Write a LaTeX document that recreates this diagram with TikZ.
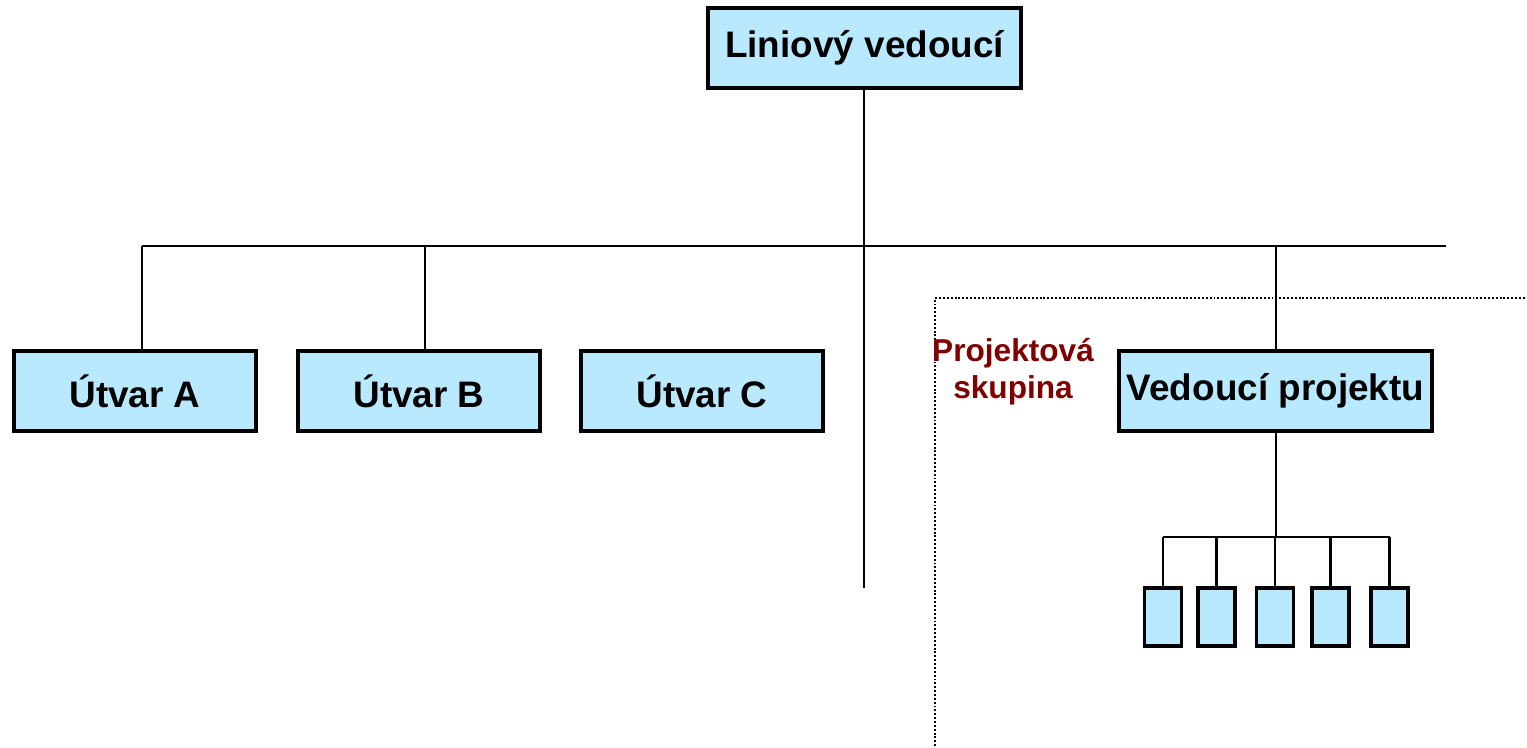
\documentclass[tikz,border=0pt]{standalone}
\usepackage{fontspec}
\setmainfont{Liberation Sans}
\usetikzlibrary{positioning}
\definecolor{boxblue}{RGB}{185,233,255}
\definecolor{teamred}{RGB}{128,0,0}
\tikzset{unit/.style = {draw, line width = 2pt, fill = boxblue, inner sep = 0,
    minimum width = 4.84cm, minimum height = 1.6cm,
    font = \bfseries\fontsize{21}{25}\selectfont}}
\tikzset{member/.style = {draw, line width = 2.2pt, fill = boxblue, inner sep = 0,
    minimum width = 0.74cm, minimum height = 1.16cm}}
\tikzset{link/.style = {line width = 1.3pt}}

\begin{document}
\begin{tikzpicture}[x=0.02cm, y=-0.02cm]
      \useasboundingbox (0, 0) rectangle (1527, 747);

      \node [unit, minimum width = 6.26cm] (lv) at (864.5, 48) {Liniový vedoucí};
      \node [unit] (ua) at (135, 391) {Útvar A};
      \node [unit] (ub) at (419, 391) {Útvar B};
      \node [unit] (uc) at (702, 391) {Útvar C};
      \node [unit, minimum width = 6.26cm] (vp) at (1275.5, 391) {Vedoucí projektu};

      \coordinate (busl) at (142, 246);
      \coordinate (busb) at (425, 246);
      \coordinate (busm) at (864, 246);
      \coordinate (busp) at (1276, 246);
      \coordinate (busr) at (1446, 246);
      \coordinate (stem) at (864, 588);

      \draw [link] (busl) -- (busr);
      \draw [link] (lv.south -| busm) -- (stem);
      \draw [link] (busl) -- (busl |- ua.north);
      \draw [link] (busb) -- (busb |- ub.north);
      \draw [link] (busp) -- (busp |- vp.north);

      % project team
      \draw [line width = 1.4pt, dash pattern = on 1.1pt off 1.1pt]
        (935, 750) -- (935, 298) -- (1530, 298);
      \node [text = teamred, align = center,
        font = \bfseries\fontsize{18}{21}\selectfont] (ps) at (1013, 372) {Projektová\\skupina};

      \coordinate (tbus) at (1276, 537);
      \draw [link] (vp.south -| tbus) -- (tbus);
      \foreach \i/\x in {1/1163, 2/1216.5, 3/1275, 4/1330.5, 5/1389.5} {
        \node [member] (m\i) at (\x, 617) {};
        \draw [link] (m\i.north) -- (m\i.north |- tbus);
      }
      \draw [link] (m1.north |- tbus) -- (m5.north |- tbus);
    \end{tikzpicture}
\end{document}
